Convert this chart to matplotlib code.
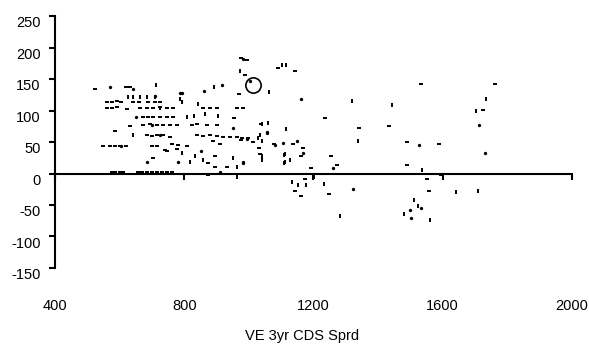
import matplotlib.pyplot as plt
from matplotlib import transforms

plt.rcParams['font.family'] = ['Liberation Sans', 'DejaVu Sans']
plt.rcParams['axes.unicode_minus'] = False

# spread vs. change, three marker styles as in the original sheet
dash_x = [524, 632, 620, 561, 576, 592, 604, 642, 660, 688, 710, 726,
          561, 576, 592, 623, 663, 685, 704, 726, 747, 765, 858, 880, 901, 963, 982,
          673, 688, 704, 726, 747, 765, 970, 955,
          673, 695, 716, 735, 756, 778, 825, 840, 871, 902, 586, 632,
          685, 700, 716, 735, 756, 840, 858, 880, 901, 920, 942, 963, 979, 998, 976, 1013, 1039,
          549, 570, 586, 601, 620, 700, 716, 741, 762, 781, 809, 889, 911, 1136, 1079, 1032,
          704, 747, 778, 896, 874, 896, 933, 1035, 1167, 1161, 1192, 1254, 1272, 1235, 1341,
          1433, 1489, 1588, 1489, 1532, 1761, 1724, 1091, 1142, 989, 975, 995,
          576, 586, 601, 611, 657, 669, 685, 700, 716, 731, 747, 762, 874,
          1173, 1142, 1161, 1248, 1551, 1557, 1594]
dash_y = [134, 137, 137, 114, 114, 115, 113, 113, 113, 113, 113, 113,
          104, 104, 105, 103, 104, 104, 104, 105, 104, 104, 104, 104, 104, 104, 104,
          90, 90, 90, 90, 90, 90, 126, 88,
          77, 78, 77, 77, 77, 77, 77, 78, 77, 77, 68, 75,
          61, 60, 61, 61, 58, 61, 60, 61, 60, 58, 58, 58, 56, 56, 53, 50, 79,
          43, 43, 43, 43, 43, 44, 43, 38, 47, 46, 44, 52, 47, 47, 47, 41,
          24, 36, 39, 28, 16, 11, 11, 31, 41, 28, 9, 28, 14, 88, 72,
          75, 50, 47, 13, 142, 142, 101, 168, 162, 157, 183, 180,
          3, 3, 3, 3, 3, 3, 3, 3, 3, 3, 3, 3, -2,
          -9, -27, -36, -33, -9, -28, -3]

tick_x = [712, 892, 973, 787, 843, 793, 1042, 1060, 642, 1035, 1041, 1029, 1102, 1115,
          1319, 1443, 1733, 1703, 1115, 1338, 1108, 1108, 1127, 1536, 793, 818, 834, 858,
          952, 963, 1042, 1042, 1113, 1113, 1041, 726, 807, 830, 865, 905, 1062,
          642, 663, 685, 710, 626,
          1203, 1133, 1152, 1176, 1232, 1282, 1641, 1709, 1511, 1523, 1480, 1560, 963]
tick_y = [140, 137, 162, 118, 110, 113, 79, 80, 61, 61, 52, 56, 173, 173,
          115, 108, 118, 99, 71, 52, 30, 17, 21, 5, 33, 19, 27, 21,
          24, 11, 28, 21, 31, 19, 24, 104, 90, 92, 94, 92, 130,
          121, 121, 121, 121, 121,
          -6, -13, -19, -19, -17, -68, -30, -27, -42, -52, -64, -74, -5]

dot_x = [570, 787, 861, 917, 1005, 982, 1161, 1712, 1730, 1105, 1149, 1167, 1260, 1526,
         1057, 995, 1081, 983, 952, 1057, 685, 781, 852, 982, 710, 793, 1322, 1532, 1498,
         1501, 911, 641, 604, 652, 700, 725]
dot_y = [137, 127, 131, 140, 147, 181, 118, 77, 33, 49, 52, 33, 8, 46,
         64, 55, 46, 17, 72, 66, 19, 19, 36, 19, 123, 127, -24, -55, -58,
         -71, 3, 134, 43, 90, 77, 61]

# current point, circled
cur_x = [1013]
cur_y = [140]

x_ticks = [400, 800, 1200, 1600, 2000]
y_ticks = [-150, -100, -50, 0, 50, 100, 150, 200, 250]

fig = plt.figure(figsize=(5.89, 3.45), dpi=100)
ax = fig.add_axes([0.0934, 0.2232, 0.8777, 0.7304])

ax.plot(dash_x, dash_y, ls='none', marker='_', ms=3.0, mew=1.4, color='black')
ax.plot(tick_x, tick_y, ls='none', marker='|', ms=3.0, mew=1.4, color='black')
ax.plot(dot_x, dot_y, ls='none', marker='o', ms=2.4, mew=0, color='black')
ax.plot(cur_x, cur_y, ls='none', marker='o', ms=11, mfc='none', mec='black', mew=1.2)

ax.set_xlim(400, 2000)
ax.set_ylim(-150, 250)
ax.set_yticks(y_ticks)
ax.set_xticks(x_ticks)

ax.spines['top'].set_visible(False)
ax.spines['right'].set_visible(False)
ax.spines['bottom'].set_position(('data', 0))
ax.spines['bottom'].set_linewidth(1.5)
ax.spines['left'].set_linewidth(1.5)
ax.tick_params(axis='y', direction='out', length=4.5, width=1.5, labelsize=10.5, pad=6)
ax.tick_params(axis='x', direction='out', length=4, width=1.5, labelbottom=False)

# y labels sit a little below their ticks
shift = transforms.ScaledTranslation(0, -4 / 72, fig.dpi_scale_trans)
for lab in ax.get_yticklabels():
    lab.set_transform(lab.get_transform() + shift)

# x tick labels go under the plot area, not on the zero line
sec = ax.secondary_xaxis('bottom')
sec.set_xticks(x_ticks)
sec.spines['bottom'].set_visible(False)
sec.tick_params(length=0, labelsize=10.5, pad=22)
sec.set_xlabel('VE 3yr CDS Sprd', fontsize=10.5, labelpad=12)
sec.xaxis.label.set_x(0.478)

fig.savefig('out.png', dpi=100)
